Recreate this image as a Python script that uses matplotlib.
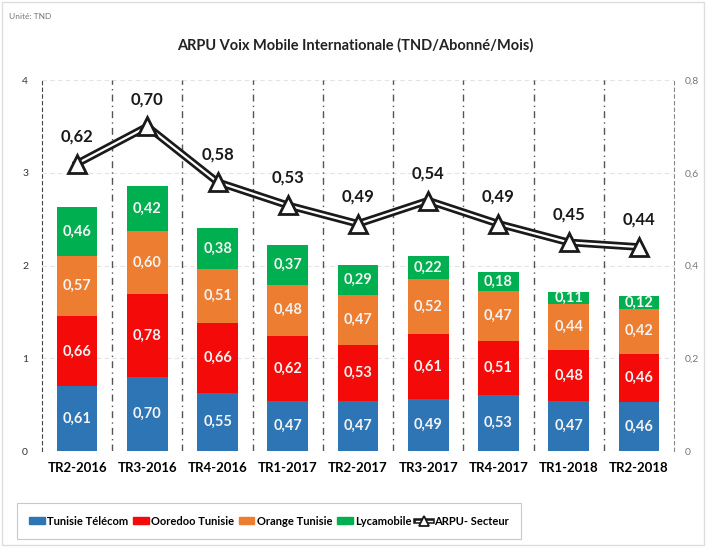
import matplotlib
matplotlib.use("Agg")
import matplotlib.pyplot as plt
import numpy as np
from matplotlib.lines import Line2D
from matplotlib.patches import Patch
from matplotlib.legend_handler import HandlerBase

plt.rcParams['font.family'] = ['Lato', 'DejaVu Sans']

categories = ['TR2-2016', 'TR3-2016', 'TR4-2016', 'TR1-2017', 'TR2-2017',
              'TR3-2017', 'TR4-2017', 'TR1-2018', 'TR2-2018']
tunisie_telecom = [0.61, 0.70, 0.55, 0.47, 0.47, 0.49, 0.53, 0.47, 0.46]
ooredoo = [0.66, 0.78, 0.66, 0.62, 0.53, 0.61, 0.51, 0.48, 0.46]
orange = [0.57, 0.60, 0.51, 0.48, 0.47, 0.52, 0.47, 0.44, 0.42]
lycamobile = [0.46, 0.42, 0.38, 0.37, 0.29, 0.22, 0.18, 0.11, 0.12]
arpu_secteur = [0.62, 0.70, 0.58, 0.53, 0.49, 0.54, 0.49, 0.45, 0.44]

series_names = ['Tunisie Télécom', 'Ooredoo Tunisie', 'Orange Tunisie', 'Lycamobile']
series_colors = ['#2E75B6', '#F50A0A', '#ED7D31', '#00B050']
left_tick_labels = ['0', '1', '2', '3', '4']
right_tick_labels = ['0', '0,2', '0,4', '0,6', '0,8']

fig = plt.figure(figsize=(7.06, 5.47), dpi=100)
fig.patch.set_facecolor('white')
ax = fig.add_axes([0.0595, 0.1755, 0.8952, 0.678])
ax2 = ax.twinx()

x = np.arange(len(categories))
left_max = 3.5
ax.set_ylim(0, left_max)
ax.set_xlim(-0.5, len(categories) - 0.5)
ax2.set_ylim(0, 0.8)

# grid
for yv in np.linspace(0, left_max, 5)[1:]:
    ax.axhline(yv, color='#E4E4E4', lw=0.8, ls=(0, (4, 3)), zorder=0)
for xv in np.arange(0.5, len(categories) - 0.5, 1):
    ax.axvline(xv, color='#555555', lw=1.0, ls=(0, (5, 3, 1, 3)), zorder=0.5)

bottom = np.zeros(len(categories))
data = [tunisie_telecom, ooredoo, orange, lycamobile]
for vals, col, name in zip(data, series_colors, series_names):
    vals = np.array(vals)
    ax.bar(x, vals, 0.58, bottom=bottom, color=col, zorder=2, label=name)
    for xi, b, v in zip(x, bottom, vals):
        ax.text(xi, b + v / 2, f'{v:.2f}'.replace('.', ','), ha='center', va='center',
                color='#F4F4F4', fontsize=10.5, fontweight='bold', zorder=3)
    bottom += vals

# ARPU line (double line effect)
ax2.plot(x, arpu_secteur, color='#1A1A1A', lw=5.5, zorder=4, solid_joinstyle='miter')
ax2.plot(x, arpu_secteur, color='white', lw=1.6, zorder=5, solid_joinstyle='miter')
ax2.plot(x, arpu_secteur, ls='none', marker='^', ms=13, mfc='white', mec='#1A1A1A',
         mew=2, zorder=6)
for xi, v in zip(x, arpu_secteur):
    ax2.annotate(f'{v:.2f}'.replace('.', ','), (xi, v), xytext=(0, 14),
                 textcoords='offset points', ha='center', va='bottom',
                 fontsize=12, fontweight='bold', color='#1A1A1A', zorder=7)

ax.set_yticks(np.linspace(0, left_max, 5))
ax.set_yticklabels(left_tick_labels)
ax2.set_yticks([0, 0.2, 0.4, 0.6, 0.8])
ax2.set_yticklabels(right_tick_labels)
ax.set_xticks(x)
ax.set_xticklabels(categories, fontweight='bold', fontsize=9.5)

for a in (ax, ax2):
    for s in ('top', 'bottom'):
        a.spines[s].set_visible(False)
ax.spines['right'].set_visible(False)
ax2.spines['left'].set_visible(False)
ax.spines['left'].set_linestyle((0, (3, 3)))
ax.spines['left'].set_color('#444444')
ax2.spines['right'].set_linestyle((0, (3, 3)))
ax2.spines['right'].set_color('#888888')
ax.tick_params(axis='y', length=0, labelsize=7.5, labelcolor='#333333', pad=10)
ax2.tick_params(axis='y', length=0, labelsize=7.5, labelcolor='#777777', pad=8)
ax.tick_params(axis='x', length=0, pad=8)
ax2.set_zorder(ax.get_zorder() + 1)
ax2.patch.set_visible(False)

fig.text(0.503, 0.918, 'ARPU Voix Mobile Internationale (TND/Abonné/Mois)',
         ha='center', va='center', fontsize=10.5, fontweight='bold', color='#222222')
fig.text(0.013, 0.97, 'Unité: TND', ha='left', va='center', fontsize=6, color='#777777')


class DoubleLineHandler(HandlerBase):
    def create_artists(self, legend, orig_handle, xdescent, ydescent, width, height,
                       fontsize, trans):
        y = height / 2 - ydescent
        l1 = Line2D([-xdescent, width - xdescent], [y, y], color='#1A1A1A', lw=4,
                    transform=trans)
        l2 = Line2D([-xdescent, width - xdescent], [y, y], color='white', lw=1.0,
                    transform=trans)
        m = Line2D([width / 2 - xdescent], [y], marker='^', ms=7, mfc='white',
                   mec='#1A1A1A', mew=1.3, ls='none', transform=trans)
        return [l1, l2, m]


handles = [Patch(color=c) for c in series_colors] + ['arpu']
labels = series_names + ['ARPU- Secteur']
leg = fig.legend(handles, labels, loc='center', bbox_to_anchor=(0.381, 0.0475), ncol=5,
                 frameon=True, fancybox=False, edgecolor='#BBBBBB',
                 prop={'weight': 'bold', 'size': 8.0}, handlelength=1.4,
                 handleheight=0.6, handletextpad=0.2, columnspacing=0.45,
                 borderpad=1.1, borderaxespad=0,
                 handler_map={str: DoubleLineHandler()})
leg.get_frame().set_linewidth(0.8)

fig.add_artist(plt.Rectangle((0.003, 0.003), 0.994, 0.994, transform=fig.transFigure,
                             fill=False, edgecolor='#DDDDDD', lw=1))

fig.savefig('out.png', dpi=100)
